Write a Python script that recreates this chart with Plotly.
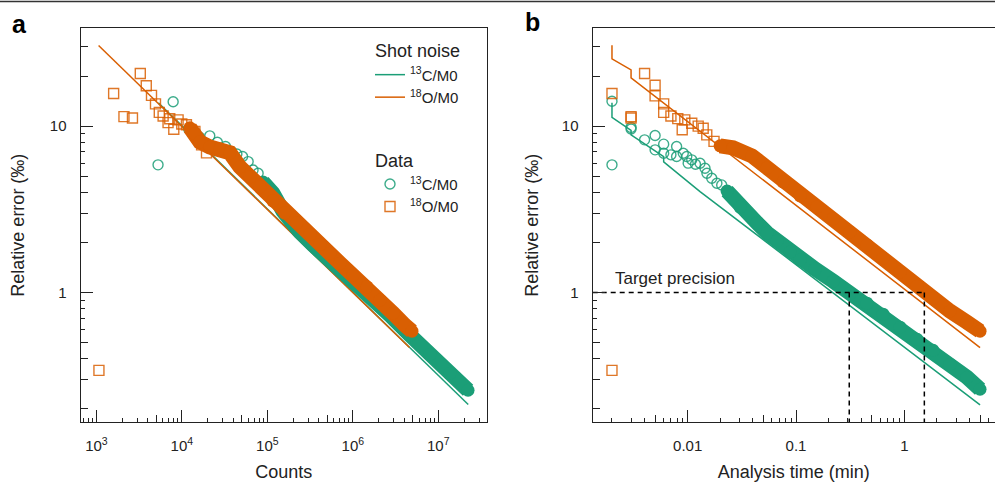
import math
import plotly.graph_objects as go

GREEN = "#1b9e77"
ORANGE = "#d95f02"
INK = "#222222"
FONT = "Liberation Sans, Arial, sans-serif"

# ---------------- Panel a : relative error vs counts ----------------
a_shot_c13_counts = [5.3e3, 2.24e7]
a_shot_c13_err = [13.8, 0.212]
a_shot_o18_counts = [1.06e3, 4.6e6]
a_shot_o18_err = [30.5, 0.466]

a_c13_sparse_counts = [5.26e3, 7.9e3, 1.2e4, 1.6e4, 2.12e4, 2.6e4, 3.24e4, 3.81e4, 4.4e4,
                       5.13e4, 5.96e4, 6.8e4, 7.8e4, 8.93e4, 1.12e5]
a_c13_sparse_err = [5.85, 14.0, 9.6, 8.6, 8.74, 8.0, 7.54, 7.03, 6.8,
                    6.56, 6.12, 5.45, 5.21, 4.54, 3.94]
a_c13_dense_counts = [8.86e4, 1.16e5, 1.52e5, 1.83e5, 2.40e5, 3.41e5, 5.85e5, 9.25e5,
                      1.58e6, 2.72e6, 4.67e6, 8.0e6, 1.37e7, 2.23e7]
a_c13_dense_err = [4.62, 3.96, 3.09, 2.69, 2.31, 1.93, 1.52, 1.22,
                   0.937, 0.730, 0.553, 0.425, 0.327, 0.258]

a_o18_sparse_counts = [1.07e3, 1.59e3, 2.10e3, 2.64e3, 3.26e3, 3.83e3, 4.41e3, 4.91e3, 5.44e3,
                       6.03e3, 6.89e3, 7.21e3, 8.04e3, 9.03e3, 9.97e3, 1.13e4, 1.42e4, 1.70e4, 1.94e4]
a_o18_sparse_err = [0.34, 15.7, 11.4, 11.2, 20.7, 17.5, 15.3, 13.6, 12.1,
                    11.5, 10.5, 11.07, 9.57, 10.9, 10.3, 10.2, 9.3, 7.71, 6.9]
a_o18_dense_counts = [1.24e4, 1.42e4, 1.62e4, 2.12e4, 2.78e4, 3.64e4, 4.76e4, 6.24e4, 8.17e4,
                      1.16e5, 1.60e5, 2.21e5, 3.15e5, 4.12e5, 5.39e5, 7.06e5, 1.00e6, 1.46e6,
                      2.08e6, 2.95e6, 4.07e6, 4.92e6]
a_o18_dense_err = [9.77, 8.99, 8.04, 7.50, 7.30, 6.91, 5.69, 4.95, 4.31,
                   3.55, 3.00, 2.62, 2.24, 1.95, 1.72, 1.50, 1.27, 1.08,
                   0.899, 0.750, 0.635, 0.585]

# ---------------- Panel b : relative error vs analysis time ----------------
b_shot_c13_time = [0.002, 0.002, 0.003, 0.003, 0.006, 0.006, 0.0088, 0.013, 5.0]
b_shot_c13_err = [13.8, 11.3, 9.43, 8.86, 6.56, 6.1, 4.97, 4.04, 0.211]
b_shot_o18_time = [0.002, 0.002, 0.003, 0.003, 5.0]
b_shot_o18_err = [30.6, 25.4, 21.8, 19.5, 0.466]

b_c13_sparse_time = [0.002, 0.002, 0.003, 0.003, 0.004, 0.005, 0.005, 0.006, 0.006,
                     0.007, 0.0079, 0.0079, 0.0091, 0.0098, 0.0101, 0.0109, 0.0118, 0.0130,
                     0.01445, 0.01505, 0.01667, 0.0186, 0.0206, 0.0237, 0.0273]
b_c13_sparse_err = [14.1, 5.85, 9.83, 9.6, 8.27, 8.78, 7.2, 7.79, 6.87,
                    6.72, 7.54, 6.56, 6.87, 6.56, 5.99, 6.27, 5.9, 5.98,
                    5.58, 5.21, 4.86, 4.53, 4.43, 4.04, 3.68]
b_c13_dense_time = [0.0231, 0.0304, 0.0436, 0.0540, 0.0668, 0.0880,
                    0.109, 0.150, 0.220, 0.315, 0.452, 0.636, 0.913, 1.31, 1.84, 2.64, 3.79, 5.0]
b_c13_dense_err = [4.07, 3.26, 2.62, 2.28, 2.04, 1.75,
                   1.566, 1.382, 1.17, 0.990, 0.862, 0.740, 0.618, 0.523, 0.449, 0.370, 0.309, 0.2616]

b_o18_sparse_time = [0.002, 0.002, 0.003, 0.003, 0.004, 0.005, 0.005, 0.006, 0.006,
                     0.007, 0.0081, 0.0089, 0.0094, 0.0109, 0.0125, 0.0139, 0.0150, 0.0175]
b_o18_sparse_err = [15.7, 0.34, 11.4, 11.2, 20.7, 17.6, 15.2, 13.6, 12.1,
                    11.5, 11.1, 9.5, 10.9, 10.4, 10.0, 9.7, 8.86, 8.1]
b_o18_dense_time = [0.0199, 0.0262, 0.0392, 0.0540, 0.0759, 0.109, 0.156, 0.220,
                    0.315, 0.452, 0.636, 0.913, 1.31, 1.84, 2.64, 3.79, 5.0]
b_o18_dense_err = [7.61, 7.40, 6.62, 5.61, 4.62, 3.80, 3.26, 2.77,
                   2.31, 1.93, 1.61, 1.325, 1.09, 0.924, 0.772, 0.662, 0.585]

target_precision = 1.0
target_times = [0.31, 1.53]

a_x_labels = ["10<sup>3</sup>", "10<sup>4</sup>", "10<sup>5</sup>", "10<sup>6</sup>", "10<sup>7</sup>"]
a_x_ticks = [1e3, 1e4, 1e5, 1e6, 1e7]
b_x_labels = ["0.01", "0.1", "1"]
b_x_ticks = [0.01, 0.1, 1]
y_labels = ["1", "10"]
y_ticks = [1, 10]

A_XRANGE = [2.816, 7.570]
B_XRANGE = [-2.877, 0.837]
YRANGE = [-0.781, 1.590]

RIBBON_W = 15

fig = go.Figure()


def line_trace(x, y, color, xa, ya, name=None, show=False, group=None, gtitle=None):
    fig.add_trace(go.Scatter(
        x=x, y=y, mode="lines", line=dict(color=color, width=1.5),
        xaxis=xa, yaxis=ya, name=name, showlegend=show,
        legendgroup=group, legendgrouptitle_text=gtitle, hoverinfo="skip"))


def marker_trace(x, y, color, symbol, xa, ya, name=None, show=False, group=None, gtitle=None):
    fig.add_trace(go.Scatter(
        x=x, y=y, mode="markers",
        marker=dict(symbol=symbol, size=10, color=color, line=dict(width=1.4, color=color), opacity=0.85),
        xaxis=xa, yaxis=ya, name=name, showlegend=show,
        legendgroup=group, legendgrouptitle_text=gtitle, hoverinfo="skip"))


def ribbon_trace(x, y, color, xa, ya):
    fig.add_trace(go.Scatter(
        x=x, y=y, mode="lines+markers",
        line=dict(color=color, width=RIBBON_W),
        marker=dict(symbol="circle", size=RIBBON_W - 2, color=color, line=dict(width=0)),
        xaxis=xa, yaxis=ya, showlegend=False, hoverinfo="skip"))


C13 = "<sup>13</sup>C/M0"
O18 = "<sup>18</sup>O/M0"

# panel a
line_trace(a_shot_c13_counts, a_shot_c13_err, GREEN, "x", "y", C13, True, "shot", "Shot noise")
line_trace(a_shot_o18_counts, a_shot_o18_err, ORANGE, "x", "y", O18, True, "shot", "Shot noise")
marker_trace(a_c13_sparse_counts, a_c13_sparse_err, GREEN, "circle-open", "x", "y", C13, True, "data", "Data")
ribbon_trace(a_c13_dense_counts, a_c13_dense_err, GREEN, "x", "y")
marker_trace(a_o18_sparse_counts, a_o18_sparse_err, ORANGE, "square-open", "x", "y", O18, True, "data", "Data")
ribbon_trace(a_o18_dense_counts, a_o18_dense_err, ORANGE, "x", "y")

# panel b
line_trace(b_shot_c13_time, b_shot_c13_err, GREEN, "x2", "y2")
line_trace(b_shot_o18_time, b_shot_o18_err, ORANGE, "x2", "y2")
marker_trace(b_c13_sparse_time, b_c13_sparse_err, GREEN, "circle-open", "x2", "y2")
ribbon_trace(b_c13_dense_time, b_c13_dense_err, GREEN, "x2", "y2")
marker_trace(b_o18_sparse_time, b_o18_sparse_err, ORANGE, "square-open", "x2", "y2")
ribbon_trace(b_o18_dense_time, b_o18_dense_err, ORANGE, "x2", "y2")

# target precision guides
b_left = 10 ** B_XRANGE[0]
y_bottom = 10 ** YRANGE[0]
dash = dict(color="black", width=1.5, dash="5px,4px")
fig.add_trace(go.Scatter(x=[b_left, target_times[1]], y=[target_precision, target_precision],
                         mode="lines", line=dash, xaxis="x2", yaxis="y2", showlegend=False, hoverinfo="skip"))
for t in target_times:
    fig.add_trace(go.Scatter(x=[t, t], y=[target_precision, y_bottom], mode="lines", line=dash,
                             xaxis="x2", yaxis="y2", showlegend=False, hoverinfo="skip"))

# dummy traces for overlay (medium-length tick) axes
for xa, ya in [("x3", "y"), ("x", "y3"), ("x4", "y2"), ("x2", "y4")]:
    fig.add_trace(go.Scatter(x=[], y=[], xaxis=xa, yaxis=ya, showlegend=False, hoverinfo="skip"))


def decades(lo, hi, mults, rng):
    out = []
    for k in range(lo, hi + 1):
        for m in mults:
            v = m * 10.0 ** k
            if rng[0] <= math.log10(v) <= rng[1]:
                out.append(v)
    return out


YDOM = [(482 - 422.3) / 482, (482 - 28) / 482]
A_XDOM = [80.7 / 995, 487 / 995]
B_XDOM = [592.7 / 995, 1.0]


def main_axis(rng, tickvals, ticktext, minorvals, mirror, standoff, title, title_standoff):
    return dict(
        type="log", range=rng, tickmode="array", tickvals=tickvals, ticktext=ticktext,
        ticks="inside", ticklen=12, tickwidth=1.3, tickcolor=INK,
        showline=True, linecolor=INK, linewidth=1.3, mirror=mirror,
        showgrid=False, zeroline=False,
        tickfont=dict(size=15, color=INK, family=FONT), ticklabelstandoff=standoff,
        minor=dict(tickmode="array", tickvals=minorvals, ticks="inside", ticklen=4,
                   tickwidth=1.1, tickcolor=INK, showgrid=False),
        title=dict(text=title, font=dict(size=18, color=INK, family=FONT), standoff=title_standoff),
    )


def overlay_axis(rng, tickvals, over, anchor, side):
    return dict(
        type="log", range=rng, overlaying=over, anchor=anchor, side=side,
        tickmode="array", tickvals=tickvals, ticks="inside", ticklen=7, tickwidth=1.1,
        tickcolor=INK, showticklabels=False, showline=False, showgrid=False, zeroline=False,
    )


x_minor_mults = (2, 3, 4, 6, 7, 8, 9)
y_minor_mults = (6, 7, 8, 9)

fig.update_layout(
    width=995, height=482,
    margin=dict(l=0, r=0, t=0, b=0),
    paper_bgcolor="white", plot_bgcolor="white",
    font=dict(family=FONT, color=INK),
    xaxis=dict(domain=A_XDOM, anchor="y",
               **main_axis(A_XRANGE, a_x_ticks, a_x_labels, decades(2, 7, x_minor_mults, A_XRANGE),
                           True, 10, "Counts", 14)),
    yaxis=dict(domain=YDOM, anchor="x",
               **main_axis(YRANGE, y_ticks, y_labels, decades(-1, 1, y_minor_mults, YRANGE), True, 10,
                           "Relative error (‰)", 20)),
    xaxis2=dict(domain=B_XDOM, anchor="y2",
                **main_axis(B_XRANGE, b_x_ticks, b_x_labels, decades(-3, 0, x_minor_mults, B_XRANGE),
                            True, 10, "Analysis time (min)", 14)),
    yaxis2=dict(domain=YDOM, anchor="x2",
                **main_axis(YRANGE, y_ticks, y_labels, decades(-1, 1, y_minor_mults, YRANGE), False, 10,
                            "Relative error (‰)", 18)),
    xaxis3=overlay_axis(A_XRANGE, decades(2, 7, (5,), A_XRANGE), "x", "y", "bottom"),
    yaxis3=overlay_axis(YRANGE, decades(-1, 1, (2, 3, 4, 5), YRANGE), "y", "x", "left"),
    xaxis4=overlay_axis(B_XRANGE, decades(-3, 0, (5,), B_XRANGE), "x2", "y2", "bottom"),
    yaxis4=overlay_axis(YRANGE, decades(-1, 1, (2, 3, 4, 5), YRANGE), "y2", "x2", "left"),
    legend=dict(x=370 / 995, y=1 - 32 / 482, xanchor="left", yanchor="top",
                bgcolor="rgba(0,0,0,0)", font=dict(size=15, color=INK, family=FONT),
                grouptitlefont=dict(size=18, color=INK, family=FONT),
                tracegroupgap=38, traceorder="grouped"),
    showlegend=True,
)

fig.add_annotation(x=-2.69, y=0.0864, xref="x2", yref="y2", text="Target precision",
                   showarrow=False, xanchor="left", yanchor="middle",
                   font=dict(size=17, color=INK, family=FONT))
fig.add_annotation(x=10 / 995, y=1 - 24 / 482, xref="paper", yref="paper", text="<b>a</b>",
                   showarrow=False, xanchor="left", yanchor="middle",
                   font=dict(size=25, color="black", family=FONT))
fig.add_annotation(x=523 / 995, y=1 - 22 / 482, xref="paper", yref="paper", text="<b>b</b>",
                   showarrow=False, xanchor="left", yanchor="middle",
                   font=dict(size=25, color="black", family=FONT))
fig.add_shape(type="line", xref="paper", yref="paper", x0=0, x1=1, y0=1 - 1.5 / 482, y1=1 - 1.5 / 482,
              line=dict(color="#333333", width=1.5))

fig.write_html("out.html")
